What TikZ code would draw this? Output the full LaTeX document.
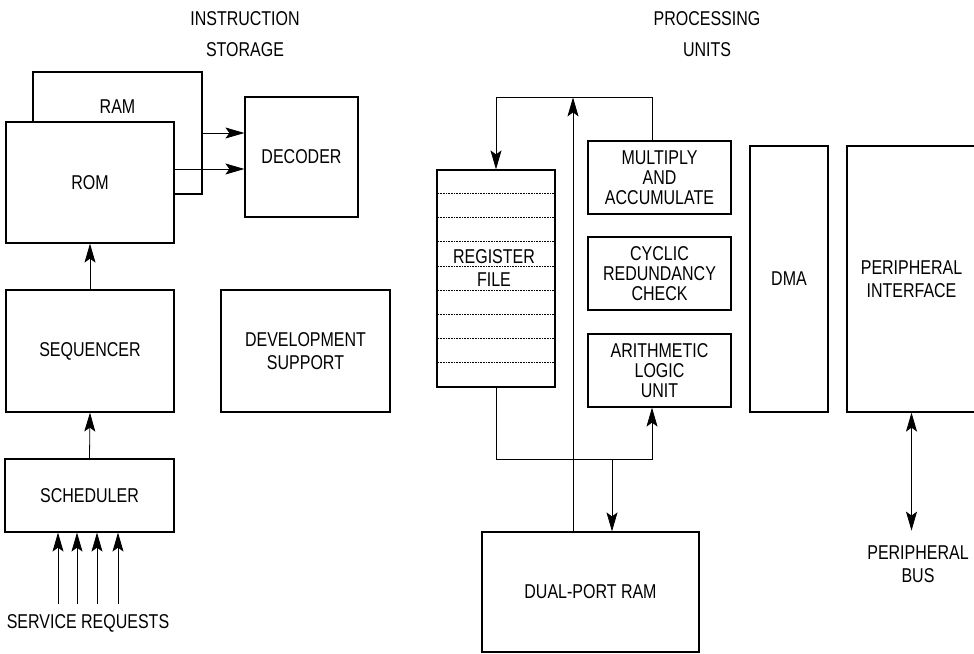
\documentclass[tikz,border=0pt]{standalone}
\usepackage{fontspec}
\setmainfont{Liberation Sans}[FakeStretch=0.8]
\usetikzlibrary{arrows.meta}

\begin{document}
\begin{tikzpicture}[
    x=1pt, y=-1pt,
    box/.style={rectangle, draw, line width=1.2pt, fill=white, inner sep=0pt,
                align=center, font=\fontsize{20}{20}\selectfont},
    lbl/.style={font=\fontsize{20}{20}\selectfont, align=center, inner sep=0pt},
    arrow/.style={-{Stealth[length=19pt, width=11pt, inset=4pt]}, line width=0.8pt},
    dblarrow/.style={{Stealth[length=19pt, width=11pt, inset=4pt]}-{Stealth[length=19pt, width=11pt, inset=4pt]}, line width=0.8pt},
    wire/.style={line width=0.8pt},
    regline/.style={densely dotted, line width=0.6pt}
  ]
    \useasboundingbox (0,0) rectangle (974,653);

    % instruction storage
    \node[lbl] (instr) at (245,34.5) {INSTRUCTION\\[11pt]STORAGE};
    \node[box, minimum width=169pt, minimum height=122pt] (ram) at (117.5,133) {};
    \node[lbl] (ramtxt) at (117.5,107) {RAM};
    \node[box, minimum width=168pt, minimum height=121pt] (rom) at (90,182.5) {ROM};
    \node[box, minimum width=113pt, minimum height=120pt] (decoder) at (301.5,157) {DECODER};
    \node[box, minimum width=168pt, minimum height=122pt] (seq) at (90,351) {SEQUENCER};
    \node[box, minimum width=169pt, minimum height=73pt] (sched) at (89.5,495.5) {SCHEDULER};
    \node[box, minimum width=169pt, minimum height=122pt] (dev) at (305.5,351) {DEVELOPMENT\\[3pt]SUPPORT};
    \node[lbl] (srv) at (88,623) {SERVICE REQUESTS};
    \coordinate (srvtop) at (88,604);

    \draw[arrow] (ram.east) -- (decoder.west |- ram.east);
    \draw[arrow] ([yshift=13.5pt]rom.east) -- (decoder.west |- 0,169);
    \draw[arrow] (seq.north) -- (rom.south);
    \draw[arrow] (sched.north) -- (seq.south);
    \foreach \x in {58,77,97,118}
      \draw[arrow] (srvtop -| \x,0) -- (sched.south -| \x,0);

    % processing units
    \node[lbl] (proc) at (707,34.5) {PROCESSING\\[11pt]UNITS};
    \node[box, minimum width=118pt, minimum height=217pt] (regf) at (496,278.5) {};
    \foreach \i in {1,...,8}
      \draw[regline] (regf.north west) ++(0,\i*24.11) -- ++(118,0);
    \node[lbl] (regtxt) at (494,268.5) {REGISTER\\[3pt]FILE};
    \node[box, minimum width=143pt, minimum height=73pt] (mac) at (659.5,177.5) {MULTIPLY\\AND\\ACCUMULATE};
    \node[box, minimum width=143pt, minimum height=73pt] (crc) at (659.5,273.5) {CYCLIC\\REDUNDANCY\\CHECK};
    \node[box, minimum width=143pt, minimum height=73pt] (alu) at (659.5,370.5) {ARITHMETIC\\LOGIC\\UNIT};
    \node[box, minimum width=78pt, minimum height=266pt] (dma) at (789,279) {DMA};
    \node[box, minimum width=129pt, minimum height=266pt] (perif) at (911.5,279) {PERIPHERAL\\[3pt]INTERFACE};
    \node[box, minimum width=217pt, minimum height=120pt] (dpram) at (590.5,592) {DUAL-PORT RAM};
    \node[lbl] (pbus) at (918,564.5) {PERIPHERAL\\[3pt]BUS};
    \coordinate (bustap) at (612,459);

    \draw[arrow] ([xshift=-7.5pt]mac.north) -- ++(0,-43) -| (regf.north);
    \draw[arrow] ([xshift=-17.5pt]dpram.north) -- ++(0,-434);
    \draw[arrow] (regf.south) -- ++(0,72) -| ([xshift=-7.5pt]alu.south);
    \draw[arrow] (bustap) -- (bustap |- dpram.north);
    \draw[dblarrow] (perif.south) -- ++(0,118);
\end{tikzpicture}
\end{document}
